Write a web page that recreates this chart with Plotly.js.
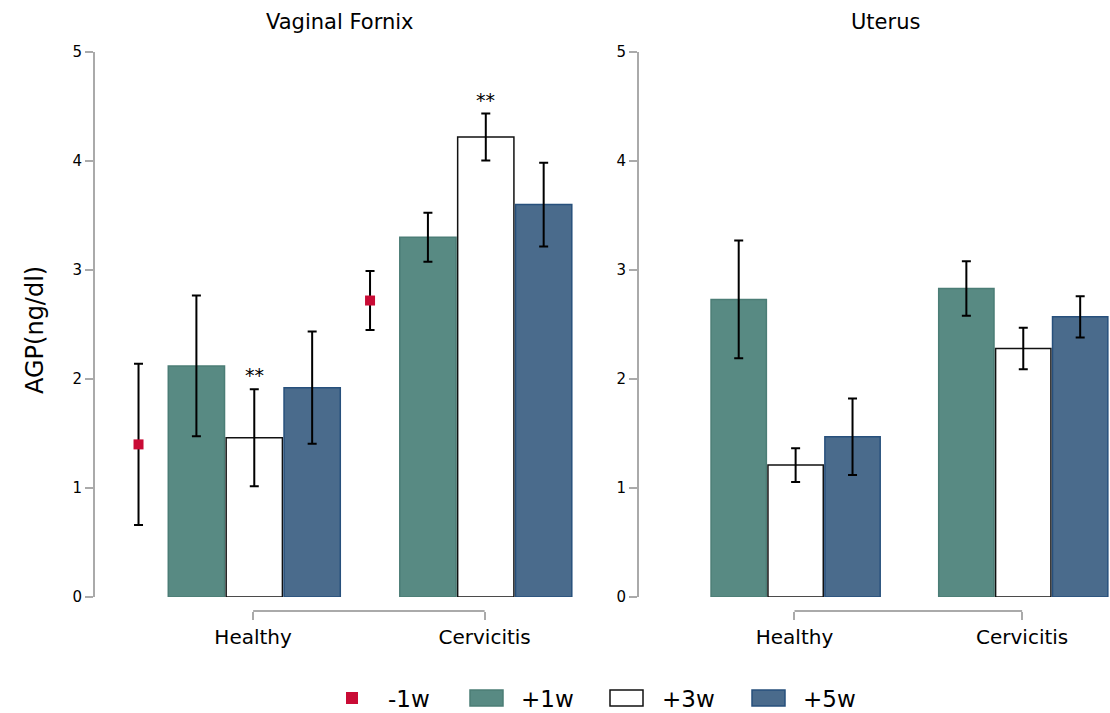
<!DOCTYPE html>
<html>
<head>
<meta charset="utf-8">
<script src="https://cdn.plot.ly/plotly-3.0.1.min.js"></script>
<style>html,body{margin:0;padding:0;background:#fff;}#chart{width:1110px;height:713px;}</style>
</head>
<body>
<div id="chart"></div>
<script>
// ---- data ----
const categories = ['Healthy', 'Cervicitis'];
const seriesNames = ['-1w', '+1w', '+3w', '+5w'];
const panelTitles = ['Vaginal Fornix', 'Uterus'];
const yTitle = 'AGP(ng/dl)';
const yTicks = [0, 1, 2, 3, 4, 5];

// Vaginal Fornix
const vfPre = [1.40, 2.72];
const vfPreErr = [0.74, 0.27];
const vfW1 = [2.12, 3.30];
const vfW1Err = [0.645, 0.225];
const vfW3 = [1.46, 4.22];
const vfW3Err = [0.445, 0.215];
const vfW5 = [1.92, 3.60];
const vfW5Err = [0.515, 0.385];
const vfW3Sig = ['**', '**'];

// Uterus
const utW1 = [2.73, 2.83];
const utW1Err = [0.54, 0.25];
const utW3 = [1.21, 2.28];
const utW3Err = [0.155, 0.19];
const utW5 = [1.47, 2.57];
const utW5Err = [0.35, 0.19];

// ---- styling ----
const W = 1110, H = 713;
const FONT = 'DejaVu Sans, Liberation Sans, Arial, sans-serif';
const slot = [-0.495, -0.245, 0.005, 0.255];   // group slot centres (category units)
const barW = 0.243;
const fills = ['#c90b35', '#588a83', '#ffffff', '#4a6b8c'];
const lines = ['#c90b35', '#4b7d76', '#111111', '#27507c'];
const idx = categories.map((c, i) => i);
const px = x => x / W;
const py = y => 1 - y / H;

function errObj(arr) {
  return {type: 'data', array: arr, visible: true, color: '#000', thickness: 2, width: 4.5};
}
function barTrace(k, vals, errs, xa, ya) {
  return {
    type: 'bar', name: seriesNames[k], x: idx, y: vals,
    offset: slot[k] - barW / 2, width: barW,
    marker: {color: fills[k], line: {color: lines[k], width: 1.5}},
    error_y: errObj(errs), xaxis: xa, yaxis: ya, showlegend: false,
    hoverinfo: 'y'
  };
}

const traces = [
  {
    type: 'scatter', mode: 'markers', name: seriesNames[0],
    x: idx.map(i => i + slot[0]), y: vfPre,
    marker: {symbol: 'square', size: 10, color: fills[0]},
    error_y: errObj(vfPreErr), xaxis: 'x', yaxis: 'y', showlegend: false
  },
  barTrace(1, vfW1, vfW1Err, 'x', 'y'),
  barTrace(2, vfW3, vfW3Err, 'x', 'y'),
  barTrace(3, vfW5, vfW5Err, 'x', 'y'),
  barTrace(1, utW1, utW1Err, 'x2', 'y2'),
  barTrace(2, utW3, utW3Err, 'x2', 'y2'),
  barTrace(3, utW5, utW5Err, 'x2', 'y2')
];

const xRange = [-0.683, 1.386];
const axisPos = py(611);
function xAxis(domain) {
  return {
    domain: domain, range: xRange, anchor: 'free', position: axisPos,
    tickvals: idx, ticktext: categories,
    ticks: 'outside', ticklen: 8, tickwidth: 1.5, tickcolor: '#aaaaaa',
    showline: false, showgrid: false, zeroline: false,
    tickfont: {family: FONT, size: 20, color: '#000'}, fixedrange: true
  };
}
function yAxis(anchor) {
  return {
    domain: [py(597), py(52)], range: [0, 5], anchor: anchor,
    tickvals: yTicks, ticks: 'outside', ticklen: 8, tickwidth: 1.5, tickcolor: '#aaaaaa',
    showline: true, linecolor: '#aaaaaa', linewidth: 2,
    showgrid: false, zeroline: false,
    tickfont: {family: FONT, size: 15, color: '#000'}, fixedrange: true
  };
}

const shapes = [];
['x', 'x2'].forEach(xr => {
  shapes.push({type: 'line', xref: xr, yref: 'paper', x0: idx[0], x1: idx[idx.length - 1],
    y0: axisPos, y1: axisPos, line: {color: '#aaaaaa', width: 2}});
});

const annotations = [];
// panel titles
annotations.push({text: panelTitles[0], xref: 'paper', yref: 'paper', x: px(339), y: py(22),
  xanchor: 'center', yanchor: 'middle', showarrow: false, font: {family: FONT, size: 21, color: '#000'}});
annotations.push({text: panelTitles[1], xref: 'paper', yref: 'paper', x: px(885), y: py(22),
  xanchor: 'center', yanchor: 'middle', showarrow: false, font: {family: FONT, size: 21, color: '#000'}});
// y title
annotations.push({text: yTitle, xref: 'paper', yref: 'paper', x: px(35), y: py(330), textangle: -90,
  xanchor: 'center', yanchor: 'middle', showarrow: false, font: {family: FONT, size: 24, color: '#000'}});
// significance marks
idx.forEach(i => {
  annotations.push({text: vfW3Sig[i], xref: 'x', yref: 'y', x: i + slot[2], y: vfW3[i] + vfW3Err[i],
    xanchor: 'center', yanchor: 'bottom', yshift: 1, showarrow: false,
    font: {family: FONT, size: 19, color: '#000'}});
});

// custom legend
const legSw = [[346, 358, 692, 704], [470, 503, 690, 706], [610, 643, 690, 706], [752, 785, 690, 706]];
const legTx = [386, 519, 660, 801];
seriesNames.forEach((n, k) => {
  const s = legSw[k];
  shapes.push({type: 'rect', xref: 'paper', yref: 'paper', x0: px(s[0]), x1: px(s[1]), y0: py(s[3]), y1: py(s[2]),
    fillcolor: fills[k], line: {color: lines[k], width: k === 0 ? 0 : 1.5}});
  annotations.push({text: n, xref: 'paper', yref: 'paper', x: px(legTx[k]), y: py(699),
    xanchor: 'left', yanchor: 'middle', showarrow: false, font: {family: FONT, size: 23, color: '#000'}});
});

const layout = {
  width: W, height: H,
  margin: {l: 0, r: 0, t: 0, b: 0},
  paper_bgcolor: '#fff', plot_bgcolor: '#fff',
  showlegend: false,
  xaxis: xAxis([px(95), px(574)]),
  xaxis2: xAxis([px(639), 1]),
  yaxis: yAxis('x'),
  yaxis2: yAxis('x2'),
  shapes: shapes,
  annotations: annotations,
  font: {family: FONT, color: '#000'}
};

Plotly.newPlot('chart', traces, layout, {displayModeBar: false, responsive: false});
</script>
</body>
</html>
